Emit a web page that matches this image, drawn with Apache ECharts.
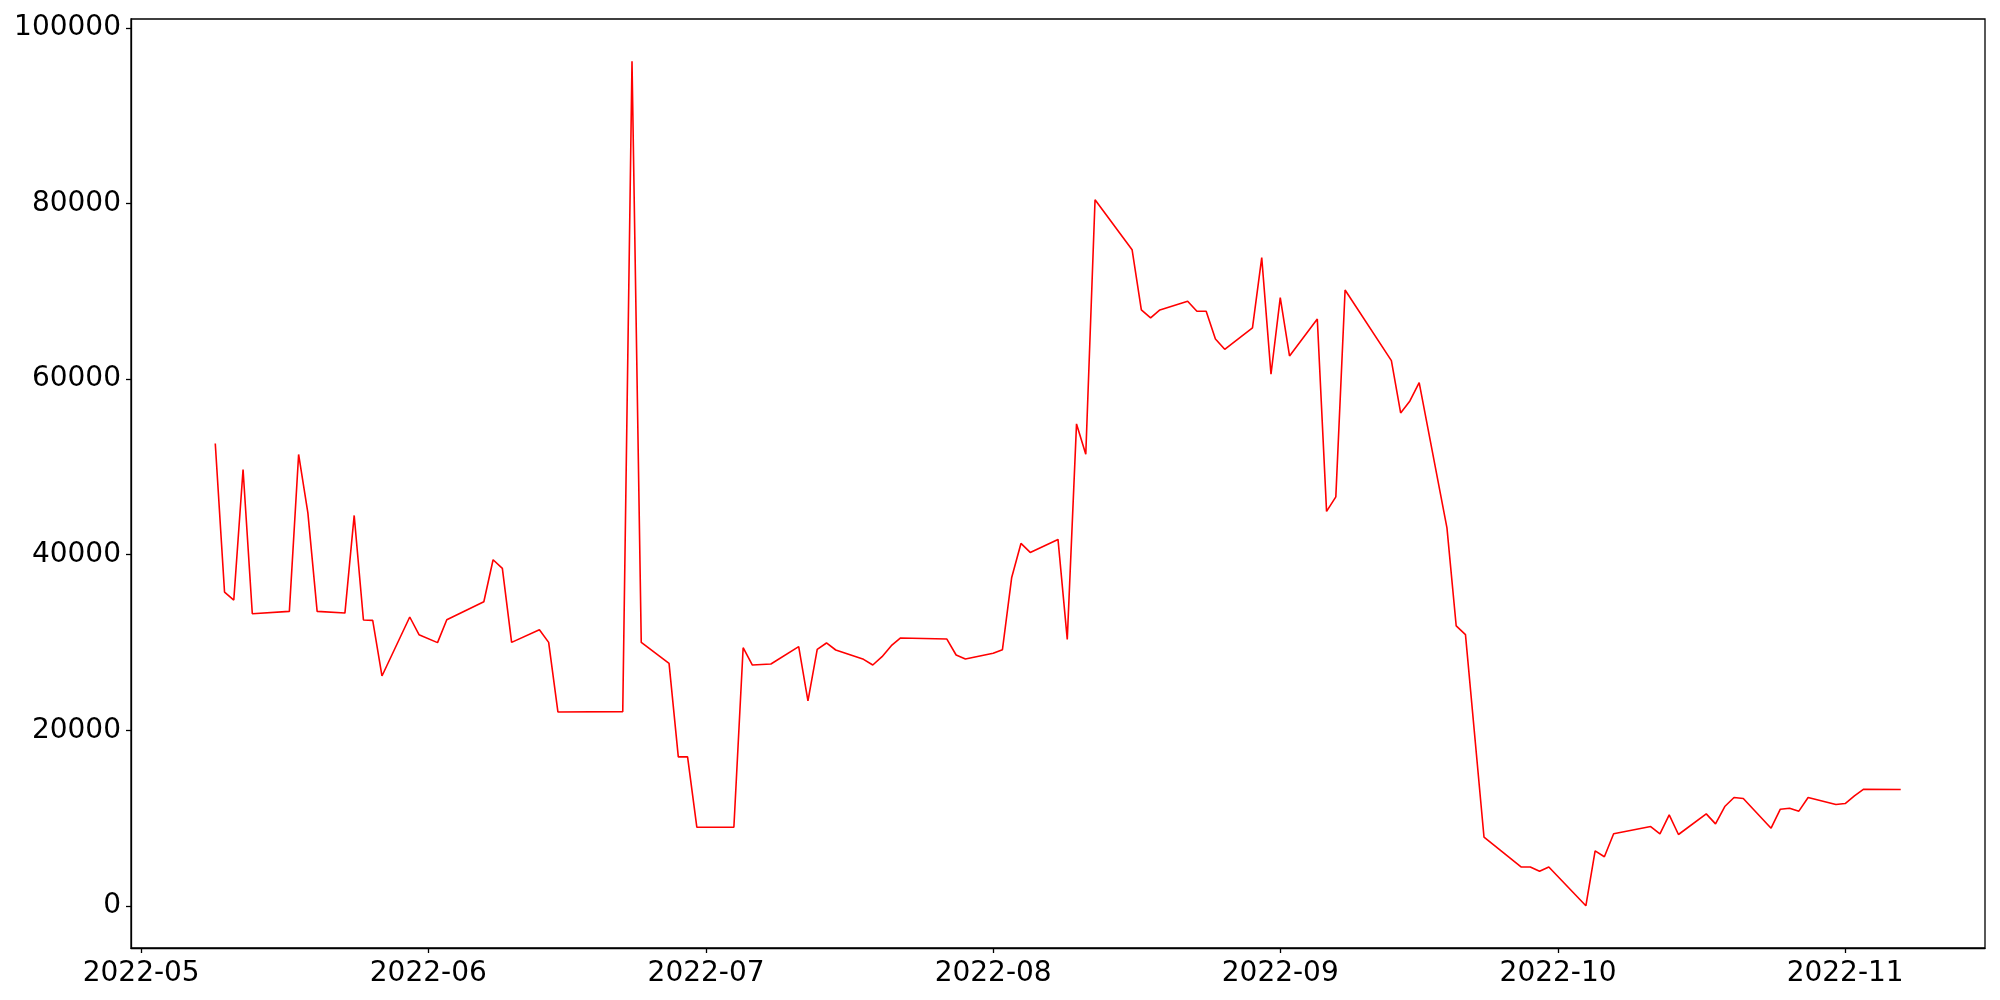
<!DOCTYPE html>
<html>
<head>
<meta charset="utf-8">
<script src="https://cdn.jsdelivr.net/npm/echarts@6/dist/echarts.min.js"></script>
<style>
  html, body { margin: 0; padding: 0; background: #fff; }
  #chart { width: 2000px; height: 1000px; }
</style>
</head>
<body>
<div id="chart"></div>
<script>
  // 日期 (交易日)
  const dates = [
    '2022-05-09','2022-05-10','2022-05-11','2022-05-12','2022-05-13','2022-05-17','2022-05-18','2022-05-19',
    '2022-05-20','2022-05-23','2022-05-24','2022-05-25','2022-05-26','2022-05-27','2022-05-30','2022-05-31',
    '2022-06-02','2022-06-03','2022-06-07','2022-06-08','2022-06-09','2022-06-10','2022-06-13','2022-06-14',
    '2022-06-15','2022-06-22','2022-06-23','2022-06-24','2022-06-27','2022-06-28','2022-06-29','2022-06-30',
    '2022-07-04','2022-07-05','2022-07-06','2022-07-08','2022-07-11','2022-07-12','2022-07-13','2022-07-14',
    '2022-07-15','2022-07-18','2022-07-19','2022-07-20','2022-07-21','2022-07-22','2022-07-27','2022-07-28',
    '2022-07-29',
    '2022-08-01','2022-08-02','2022-08-03','2022-08-04','2022-08-05','2022-08-08','2022-08-09','2022-08-10',
    '2022-08-11','2022-08-12','2022-08-16','2022-08-17','2022-08-18','2022-08-19','2022-08-22','2022-08-23',
    '2022-08-24','2022-08-25','2022-08-26','2022-08-29','2022-08-30','2022-08-31',
    '2022-09-01','2022-09-02','2022-09-05','2022-09-06','2022-09-07','2022-09-08','2022-09-13','2022-09-14',
    '2022-09-15','2022-09-16','2022-09-19','2022-09-20','2022-09-21','2022-09-23','2022-09-27','2022-09-28',
    '2022-09-29','2022-09-30',
    '2022-10-04','2022-10-05','2022-10-06','2022-10-07','2022-10-11','2022-10-12','2022-10-13','2022-10-14',
    '2022-10-17','2022-10-18','2022-10-19','2022-10-20','2022-10-21','2022-10-24','2022-10-25','2022-10-26',
    '2022-10-27','2022-10-28','2022-10-31',
    '2022-11-01','2022-11-02','2022-11-03','2022-11-07'
  ];
  // 数值
  const values = [
    52670, 35740, 34830, 49710, 33270, 33540, 51420, 44770,
    33540, 33350, 44470, 32560, 32520, 26180, 32900, 30890,
    29980, 32590, 34640, 39420, 38440, 30010, 31450, 30010,
    22080, 22120, 96220, 30010, 27620, 16960, 16960, 8950,
    8950, 29400, 27430, 27550, 29520, 23340, 29220, 29940,
    29140, 28080, 27430, 28380, 29630, 30510, 30390, 28570,
    28120,
    28760, 29180, 37410, 41280, 40260, 41740, 30350, 54900,
    51450, 80440, 74750, 67880, 66970, 67880, 68870, 67730,
    67730, 64580, 63400, 65830, 73840, 60560,
    69290, 62640, 66850, 44930, 46590, 70150, 62110, 56150,
    57520, 59610, 43050, 31880, 30900, 7830, 4420, 4420,
    3930, 4420,
    0, 6260, 5580, 8200, 9030, 8200, 10360, 8120,
    10470, 9330, 11310, 12330, 12220, 8840, 11000, 11120,
    10780, 12330, 11530,
    11650, 12520, 13280, 13240
  ];
  // 刻度
  const xTicks = ['2022-05', '2022-06', '2022-07', '2022-08', '2022-09', '2022-10', '2022-11'];
  const yTicks = [0, 20000, 40000, 60000, 80000, 100000];

  const toTime = s => {
    const p = s.split('-').map(Number);
    return Date.UTC(p[0], p[1] - 1, p[2] || 1);
  };
  const times = dates.map(toTime);
  const seriesData = times.map((t, i) => [t, values[i]]);

  // matplotlib 默认 5% 边距
  const tMin = Math.min(...times), tMax = Math.max(...times);
  const vMin = Math.min(...values), vMax = Math.max(...values);
  const tPad = (tMax - tMin) * 0.05, vPad = (vMax - vMin) * 0.05;

  const xTickTimes = xTicks.map(toTime);
  const axisLineStyle = { color: '#000', width: 1.3 };

  const chart = echarts.init(document.getElementById('chart'), null, { renderer: 'canvas' });
  chart.setOption({
    animation: false,
    backgroundColor: '#fff',
    textStyle: { fontFamily: 'DejaVu Sans', fontSize: 28 },
    grid: {
      left: 131, top: 19, width: 1854, height: 929,
      show: true, borderColor: '#000', borderWidth: 1.3, backgroundColor: 'transparent'
    },
    xAxis: {
      type: 'value', // 时间戳当作数值轴，刻度用月初
      min: tMin - tPad,
      max: tMax + tPad,
      axisLine: { show: true, onZero: false, lineStyle: axisLineStyle },
      axisTick: { show: true, length: 5, lineStyle: axisLineStyle, customValues: xTickTimes },
      axisLabel: {
        margin: 12,
        fontFamily: 'DejaVu Sans',
        fontSize: 28,
        color: '#000',
        customValues: xTickTimes,
        formatter: v => {
          const d = new Date(v);
          return d.getUTCFullYear() + '-' + String(d.getUTCMonth() + 1).padStart(2, '0');
        }
      },
      splitLine: { show: false }
    },
    yAxis: {
      type: 'value',
      min: vMin - vPad,
      max: vMax + vPad,
      axisLine: { show: true, onZero: false, lineStyle: axisLineStyle },
      axisTick: { show: true, length: 5, lineStyle: axisLineStyle, customValues: yTicks },
      axisLabel: {
        margin: 10,
        fontFamily: 'DejaVu Sans',
        fontSize: 28,
        color: '#000',
        customValues: yTicks,
        formatter: v => String(v)
      },
      splitLine: { show: false }
    },
    series: [
      {
        type: 'line',
        data: seriesData,
        showSymbol: false,
        symbol: 'none',
        lineStyle: { color: '#ff0000', width: 1.6 },
        itemStyle: { color: '#ff0000' }
      }
    ]
  });
</script>
</body>
</html>
